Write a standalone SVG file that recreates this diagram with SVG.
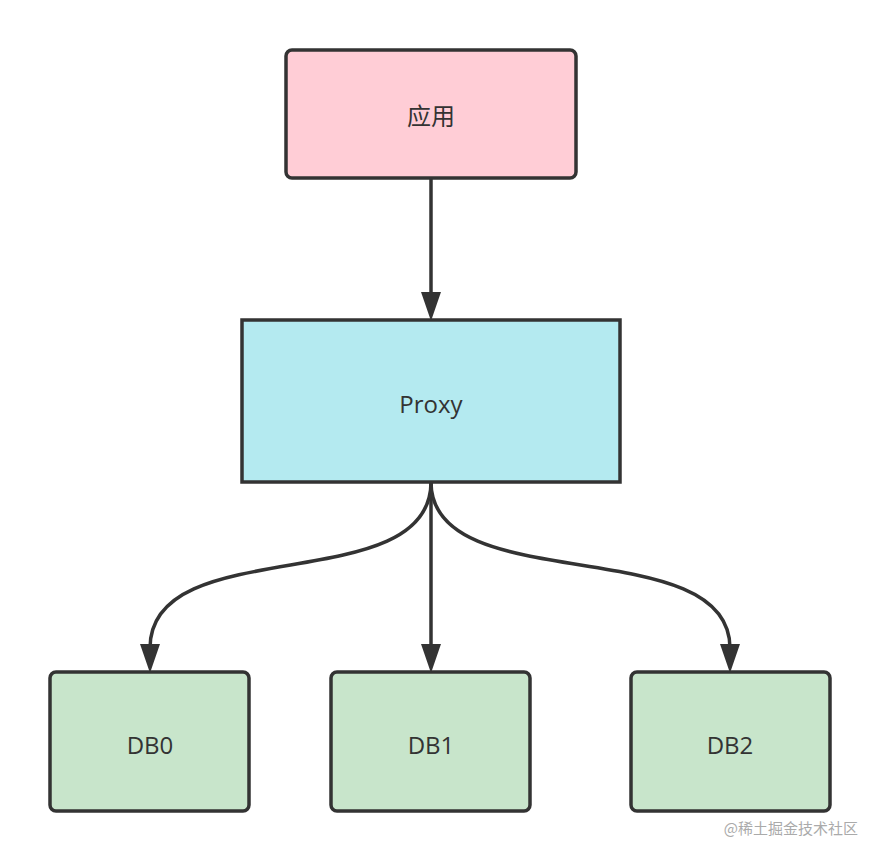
<svg xmlns="http://www.w3.org/2000/svg" width="881" height="862" viewBox="0 0 881 862">
<style>
.box{stroke:#333;stroke-width:3.5}
.lbl{font-family:"Open Sans","Noto Sans","Noto Sans CJK SC",sans-serif;font-size:24px;fill:#333;text-anchor:middle;dominant-baseline:central}
.edge{fill:none;stroke:#333;stroke-width:3.5}
.wm{font-family:"Noto Sans CJK SC",sans-serif;font-size:15px;fill:#aaa;text-anchor:end}
</style>
<rect width="881" height="862" fill="#fff"/>
<g id="edges">
<path class="edge" d="M431,178 L431,296"/>
<path class="edge" d="M431,482 L431,648"/>
<path class="edge" d="M431,482 C431,600 150,530 150,648"/>
<path class="edge" d="M431,482 C431,600 730,530 730,648"/>
<g fill="#333">
<path d="M421,292 L441,292 L431,321 Z"/>
<path d="M421,644 L441,644 L431,673 Z"/>
<path d="M140,644 L160,644 L150,673 Z"/>
<path d="M720,644 L740,644 L730,673 Z"/>
</g>
</g>
<g id="app">
<rect class="box" x="286" y="50" width="290" height="128" rx="6" fill="#ffcdd6"/>
<text class="lbl" x="431" y="115">应用</text>
</g>
<g id="proxy">
<rect class="box" x="242" y="320" width="378" height="162" fill="#b4eaf0"/>
<text class="lbl" x="431" y="403">Proxy</text>
</g>
<g id="db0">
<rect class="box" x="50" y="672" width="199" height="139" rx="6" fill="#c8e5cb"/>
<text class="lbl" x="150" y="744">DB0</text>
</g>
<g id="db1">
<rect class="box" x="331" y="672" width="199" height="139" rx="6" fill="#c8e5cb"/>
<text class="lbl" x="431" y="744">DB1</text>
</g>
<g id="db2">
<rect class="box" x="631" y="672" width="199" height="139" rx="6" fill="#c8e5cb"/>
<text class="lbl" x="730" y="744">DB2</text>
</g>
<text class="wm" x="858" y="834">@稀土掘金技术社区</text>
</svg>
